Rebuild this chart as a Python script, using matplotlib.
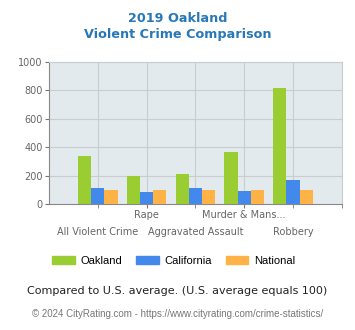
import numpy as np
import matplotlib
matplotlib.use("Agg")
import matplotlib.pyplot as plt
from matplotlib.patches import Patch

categories = ["All Violent Crime", "Rape", "Aggravated Assault",
              "Murder & Mans...", "Robbery"]
oakland = [336, 200, 208, 365, 816]
california = [115, 86, 110, 88, 166]
national = [100, 100, 100, 100, 100]

series = [("Oakland", oakland, "#9acd32"),
          ("California", california, "#4389ec"),
          ("National", national, "#ffb347")]

fig = plt.figure(figsize=(3.55, 3.30), dpi=100)
ax = fig.add_axes([0.138, 0.382, 0.825, 0.43])
ax.set_facecolor("#e3eaed")

x = np.arange(1, len(categories) + 1)
w = 0.27
for i, (name, vals, col) in enumerate(series):
    ax.bar(x + (i - 1) * w, vals, w, color=col, zorder=3)

ax.set_xlim(0, 6)
ax.set_ylim(0, 1000)
ax.set_yticks(range(0, 1001, 200))

# labels alternate between two rows: even ones on top (major), odd below (minor)
ax.set_xticks(x[1::2])
ax.set_xticklabels(categories[1::2])
ax.set_xticks(list(x[0::2]) + [6], minor=True)
ax.set_xticklabels(categories[0::2] + [""], minor=True)
ax.tick_params(axis="x", which="minor", pad=13.5)
ax.tick_params(which="both", colors="#777777", labelsize=7, length=3)
ax.tick_params(axis="x", which="major", pad=1.5)
ax.tick_params(axis="y", pad=1.5)
ax.grid(True, which="both", color="#c8cdd0", linewidth=0.8, zorder=0)
for lab in (ax.get_xticklabels() + ax.get_xticklabels(minor=True)
            + ax.get_yticklabels()):
    lab.set_color("#666666")
for s in ["top", "right"]:
    ax.spines[s].set_color("#c8cdd0")
for s in ["left", "bottom"]:
    ax.spines[s].set_color("#888888")

fig.text(0.5, 0.945, "2019 Oakland", ha="center", va="center",
         fontsize=9.2, fontweight="bold", color="#2878b8")
fig.text(0.5, 0.895, "Violent Crime Comparison", ha="center", va="center",
         fontsize=9.2, fontweight="bold", color="#2878b8")

handles = [Patch(color=c, label=n) for n, _, c in series]
fig.legend(handles=handles, loc="center", bbox_to_anchor=(0.49, 0.21), ncol=3,
           frameon=False, prop={"family": "Liberation Sans", "size": 8},
           handlelength=2.0, handleheight=0.65, columnspacing=1.25,
           handletextpad=0.55)

fig.text(0.5, 0.118, "Compared to U.S. average. (U.S. average equals 100)",
         ha="center", va="center", fontsize=8.0, color="#222222")
fig.text(0.5, 0.048,
         "\u00a9 2024 CityRating.com - https://www.cityrating.com/crime-statistics/",
         ha="center", va="center", fontsize=7.0, color="#777777",
         family="Liberation Sans")

fig.savefig("out.png", dpi=100)
